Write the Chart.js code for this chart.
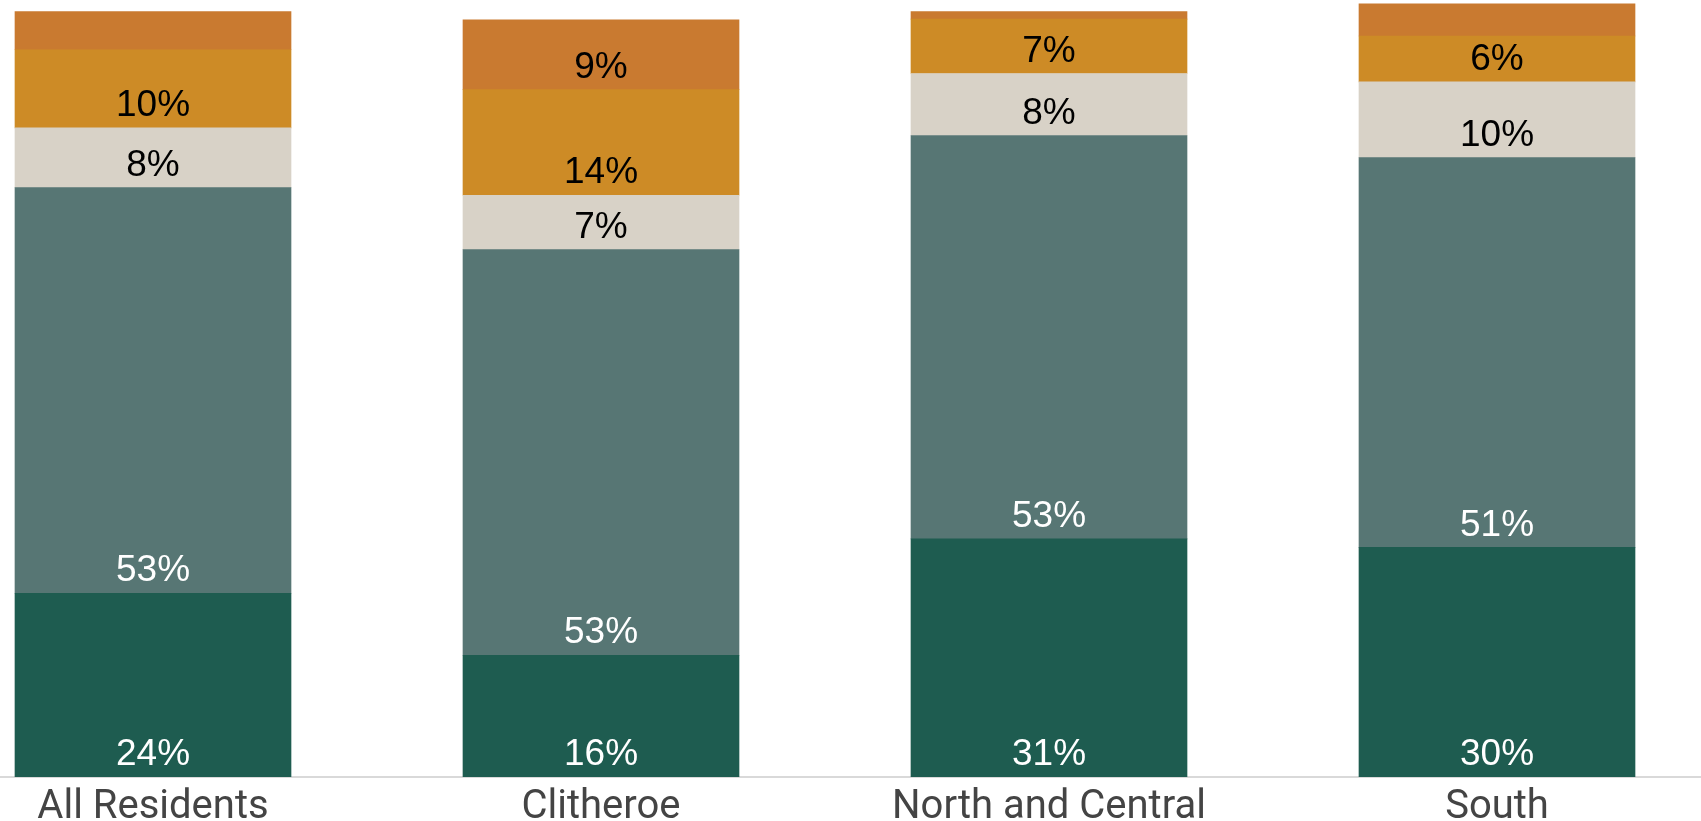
<!DOCTYPE html>
<html>
<head>
<meta charset="utf-8">
<script src="https://cdn.jsdelivr.net/npm/chart.js@4/dist/chart.umd.min.js"></script>
<style>
  html, body { margin: 0; padding: 0; background: #fff; overflow: hidden; width: 1701px; height: 821px; }
  #wrap { position: absolute; left: -71px; top: 0; width: 1792px; height: 840px; }
</style>
</head>
<body>
<div id="wrap"><canvas id="c" width="1792" height="840"></canvas></div>
<script>
const categories = ["All Residents", "Clitheroe", "North and Central", "South"];
const seriesNames = ["Very satisfied", "Fairly satisfied", "Neither", "Fairly dissatisfied", "Very dissatisfied"];
const verySatisfied = [24.0, 15.9, 31.1, 30.0];
const fairlySatisfied = [53.0, 53.0, 52.7, 50.9];
const neither = [7.8, 7.1, 8.1, 9.9];
const fairlyDissatisfied = [10.2, 13.8, 7.1, 6.0];
const veryDissatisfied = [5.0, 9.1, 1.0, 4.2];

const colors = ["#1E5C50", "#577674", "#D8D2C7", "#CD8B26", "#C97A30"];
const labelColors = ["#ffffff", "#ffffff", "#000000", "#000000", "#000000"];
const series = [verySatisfied, fairlySatisfied, neither, fairlyDissatisfied, veryDissatisfied];

const PLOT_BOTTOM = 777;
const CANVAS_H = 840;

const labelPlugin = {
  id: 'segLabels',
  afterDatasetsDraw(chart) {
    const ctx = chart.ctx;
    ctx.save();
    ctx.font = '37px "Liberation Sans", Arial, sans-serif';
    ctx.textAlign = 'center';
    ctx.textBaseline = 'middle';
    chart.data.datasets.forEach((ds, di) => {
      const meta = chart.getDatasetMeta(di);
      meta.data.forEach((el, i) => {
        const v = ds.data[i];
        if (v < 5.5) return;
        ctx.fillStyle = labelColors[di];
        ctx.fillText(Math.round(v) + '%', el.x, el.base - 22);
      });
    });
    ctx.restore();
  }
};

new Chart(document.getElementById('c'), {
  type: 'bar',
  data: {
    labels: categories,
    datasets: series.map((d, i) => ({
      label: seriesNames[i],
      data: d,
      backgroundColor: colors[i],
      borderWidth: 0,
      barThickness: 276
    }))
  },
  options: {
    responsive: false,
    animation: false,
    devicePixelRatio: 1,
    layout: { padding: 0 },
    plugins: { legend: { display: false }, tooltip: { enabled: false } },
    scales: {
      x: {
        stacked: true,
        grid: { display: false, drawTicks: false },
        border: { display: true, color: '#d9d9d9', width: 2 },
        ticks: { color: '#444444', font: { family: 'Roboto', size: 40 }, padding: 7, maxRotation: 0, autoSkip: false },
        afterFit(s) { s.height = CANVAS_H - PLOT_BOTTOM; }
      },
      y: {
        stacked: true,
        display: false,
        min: 0,
        max: 101.5
      }
    }
  },
  plugins: [labelPlugin]
});
</script>
</body>
</html>
